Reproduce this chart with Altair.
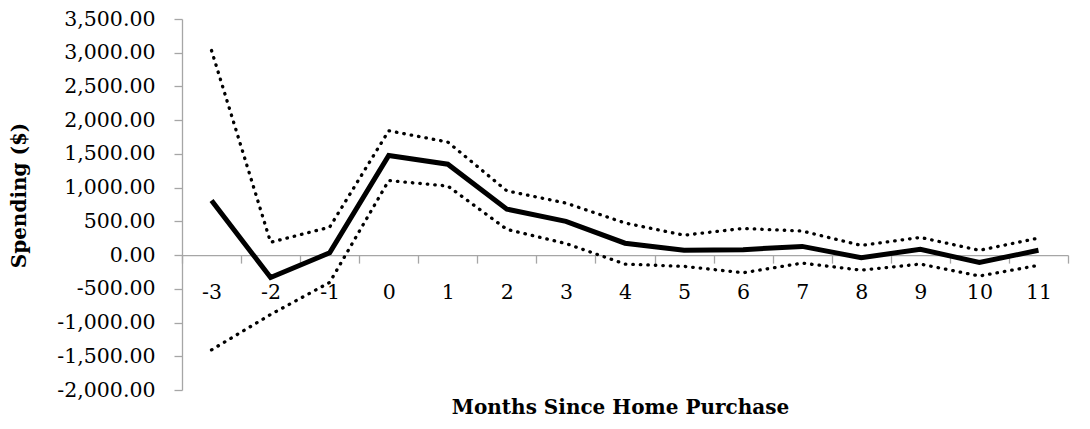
import altair as alt
import pandas as pd

months = [-3, -2, -1, 0, 1, 2, 3, 4, 5, 6, 7, 8, 9, 10, 11]
estimate = [810, -333, 33, 1476, 1348, 681, 500, 176, 71, 81, 129, -38, 86, -110, 71]
upper = [3033, 190, 414, 1843, 1676, 952, 771, 476, 295, 395, 357, 143, 262, 71, 252]
lower = [-1405, -881, -405, 1105, 1024, 381, 171, -133, -167, -262, -119, -224, -133, -310, -152]
y_ticks = [-2000, -1500, -1000, -500, 0, 500, 1000, 1500, 2000, 2500, 3000, 3500]

order = [str(m) for m in months]
df = pd.DataFrame({"month": order, "estimate": estimate, "upper": upper, "lower": lower})

FONT = "DejaVu Serif"
GRAY = "#a6a6a6"
H = 371
ZERO_FROM_BOTTOM = H * 2000 / 5500

x_enc = alt.X(
    "month:O",
    sort=order,
    scale=alt.Scale(type="band", paddingInner=0, paddingOuter=0),
    axis=alt.Axis(
        title="Months Since Home Purchase",
        offset=-ZERO_FROM_BOTTOM,
        tickBand="extent",
        labelAngle=0,
        labelBaseline="alphabetic",
        labelPadding=35,
        tickSize=8,
        titleX=438,
        titleY=158,
        titleBaseline="alphabetic",
        titleAlign="center",
    ),
)


def y_enc(field):
    return alt.Y(
        f"{field}:Q",
        scale=alt.Scale(domain=[-2000, 3500], nice=False, zero=False),
        axis=alt.Axis(
            title="Spending ($)",
            values=y_ticks,
            format=",.2f",
            labelExpr="replace(datum.label, '\u2212', '-')",
            grid=False,
            tickSize=8,
            labelPadding=19,
            titleAngle=-90,
            titleX=-157,
            titleY=176,
            titleBaseline="alphabetic",
            titleAlign="center",
        ),
    )


base = alt.Chart(df)

upper_line = base.mark_line(
    color="black", strokeWidth=3.3, strokeDash=[0.5, 7], strokeCap="round"
).encode(x=x_enc, y=y_enc("upper"))
lower_line = base.mark_line(
    color="black", strokeWidth=3.3, strokeDash=[0.5, 7], strokeCap="round"
).encode(x=x_enc, y=y_enc("lower"))
main_line = base.mark_line(color="black", strokeWidth=5).encode(x=x_enc, y=y_enc("estimate"))

chart = (
    alt.layer(upper_line, lower_line, main_line)
    .properties(
        width=886,
        height=H,
        autosize=alt.AutoSizeParams(type="none"),
        padding={"left": 174, "top": 11, "right": 10, "bottom": 31},
    )
    .configure_view(stroke=None)
    .configure_axis(
        domainColor=GRAY,
        tickColor=GRAY,
        domainWidth=1.3,
        tickWidth=1.3,
        labelFont=FONT,
        labelFontSize=20.5,
        labelColor="black",
        titleFont=FONT,
        titleFontSize=20,
        titleFontWeight="bold",
        titleColor="black",
        labelOverlap=False,
    )
)

chart.save("out.html", embed_options={"renderer": "svg", "actions": False})
